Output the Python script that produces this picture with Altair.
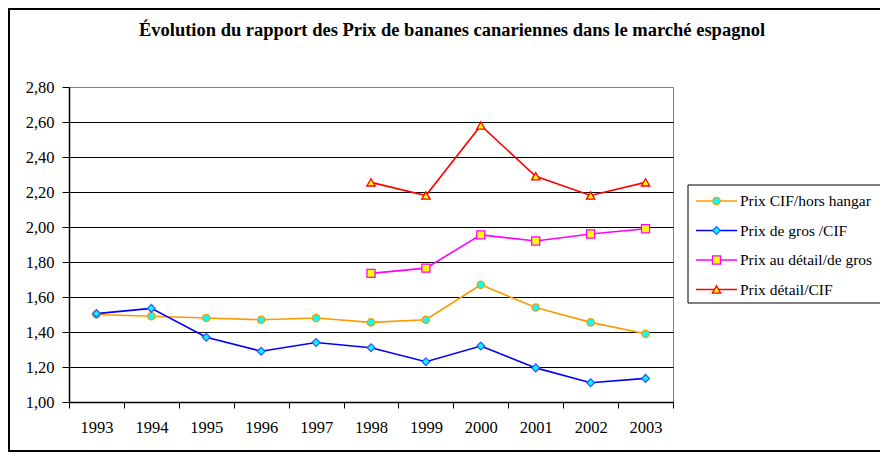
import altair as alt
import pandas as pd

years = [1993, 1994, 1995, 1996, 1997, 1998, 1999, 2000, 2001, 2002, 2003]
series_names = ["Prix CIF/hors hangar", "Prix de gros /CIF",
                "Prix au détail/de gros", "Prix détail/CIF"]
cif_hangar = [1.50, 1.49, 1.48, 1.47, 1.48, 1.455, 1.47, 1.67, 1.54, 1.455, 1.39]
gros_cif = [1.505, 1.535, 1.37, 1.29, 1.34, 1.31, 1.23, 1.32, 1.195, 1.11, 1.135]
years_late = [1998, 1999, 2000, 2001, 2002, 2003]
detail_gros = [1.735, 1.765, 1.955, 1.92, 1.96, 1.99]
detail_cif = [2.255, 2.18, 2.58, 2.29, 2.18, 2.255]

y_ticks = [1.0, 1.2, 1.4, 1.6, 1.8, 2.0, 2.2, 2.4, 2.6, 2.8]
x_ticks = [1992.5, 1993.5, 1994.5, 1995.5, 1996.5, 1997.5, 1998.5,
           1999.5, 2000.5, 2001.5, 2002.5, 2003.5]

line_colors = ["#FF9900", "#0000FF", "#FF00FF", "#FF0000"]
stroke_colors = ["#FF9900", "#3355FF", "#FF00FF", "#FF0000"]
fill_colors = ["#00FFFF", "#00FFFF", "#FFFF00", "#FFFF00"]
shapes = ["circle", "diamond", "square", "triangle-up"]
sizes = [55, 70, 50, 65]

rows = []
for s, xs, vs in [(series_names[0], years, cif_hangar),
                  (series_names[1], years, gros_cif),
                  (series_names[2], years_late, detail_gros),
                  (series_names[3], years_late, detail_cif)]:
    for x, v in zip(xs, vs):
        rows.append({"serie": s, "annee": x, "valeur": v,
                     "rang": series_names.index(s)})
df = pd.DataFrame(rows)
leg_df = pd.DataFrame({"serie": series_names})

FONT = "'Liberation Serif', 'Times New Roman', 'DejaVu Serif', serif"

color_sc = alt.Scale(domain=series_names, range=line_colors)
stroke_sc = alt.Scale(domain=series_names, range=stroke_colors)
fill_sc = alt.Scale(domain=series_names, range=fill_colors)
shape_sc = alt.Scale(domain=series_names, range=shapes)
size_sc = alt.Scale(domain=series_names, range=sizes)

x_enc = alt.X("annee:Q", scale=alt.Scale(domain=[1992.5, 2003.5], nice=False, zero=False),
              axis=alt.Axis(values=x_ticks, title=None, grid=False,
                            labelExpr="datum.value < 2003 ? toString(datum.value + 0.5) : ''",
                            labelOffset=27.5, labelFlush=False, labelOverlap=False,
                            labelBound=False, tickSize=6, tickColor="#000000",
                            domainColor="#000000", domainWidth=1.5, labelPadding=11,
                            labelFont=FONT, labelFontSize=16.5, labelColor="#000000"))
y_enc = alt.Y("valeur:Q", scale=alt.Scale(domain=[1.0, 2.8], nice=False, zero=False),
              axis=alt.Axis(values=y_ticks, title=None, grid=True,
                            gridColor=alt.condition("datum.value > 2.79", alt.value("#808080"), alt.value("#000000")),
                            gridWidth=1,
                            labelExpr="replace(format(datum.value, '.2f'), '.', ',')",
                            tickSize=7, tickColor="#000000", domainColor="#000000",
                            domainWidth=1.5, labelPadding=8,
                            labelFont=FONT, labelFontSize=16.5, labelColor="#000000"))

base = alt.Chart(df)
lines = base.mark_line(strokeWidth=1.6).encode(
    x=x_enc, y=y_enc,
    color=alt.Color("serie:N", scale=color_sc, legend=None),
    detail="serie:N",
    order="annee:Q",
)
points = base.mark_point(filled=True, strokeWidth=1.3, opacity=1).encode(
    x=x_enc, y=y_enc,
    shape=alt.Shape("serie:N", scale=shape_sc, legend=None),
    fill=alt.Fill("serie:N", scale=fill_sc, legend=None),
    stroke=alt.Stroke("serie:N", scale=stroke_sc, legend=None),
    size=alt.Size("serie:N", scale=size_sc, legend=None),
    order="rang:Q",
)
main = alt.layer(lines, points)

leg_y = alt.Y("serie:N", scale=alt.Scale(type="point", domain=series_names,
                                          range=[114, 202.5], padding=0), axis=None)
leg_base = alt.Chart(leg_df)
leg_box = alt.Chart(alt.Data(values=[{"k": 1}])).mark_rect(
    fill="white", stroke="#000000", strokeWidth=1).encode(
    x=alt.value(619), x2=alt.value(900), y=alt.value(98), y2=alt.value(216))
leg_rule = leg_base.mark_rule(strokeWidth=1.6).encode(
    x=alt.value(627), x2=alt.value(668), y=leg_y,
    color=alt.Color("serie:N", scale=color_sc, legend=None))
leg_pt = leg_base.mark_point(filled=True, strokeWidth=1.3, opacity=1).encode(
    x=alt.value(647.5), y=leg_y,
    shape=alt.Shape("serie:N", scale=shape_sc, legend=None),
    fill=alt.Fill("serie:N", scale=fill_sc, legend=None),
    stroke=alt.Stroke("serie:N", scale=stroke_sc, legend=None),
    size=alt.Size("serie:N", scale=size_sc, legend=None))
leg_txt = leg_base.mark_text(align="left", baseline="middle", font=FONT,
                             fontSize=15.5, color="#000000").encode(
    x=alt.value(671), y=leg_y, text="serie:N")
legend = alt.layer(leg_box, leg_rule, leg_pt, leg_txt)

frame = alt.Chart(alt.Data(values=[{"k": 1}])).mark_rect(
    fill=None, stroke="#000000", strokeWidth=2).encode(
    x=alt.value(-60), x2=alt.value(900), y=alt.value(-78), y2=alt.value(364))

chart = alt.layer(frame, main, legend).resolve_scale(y="independent").properties(
    width=604, height=315,
    title=alt.TitleParams(
        "Évolution du rapport des Prix de bananes canariennes  dans le marché espagnol",
        font=FONT, fontSize=18.5, fontWeight="bold", color="#000000",
        anchor="middle", dx=81, offset=-31),
    autosize=alt.AutoSizeParams(type="none"),
    padding={"left": 61, "top": 79, "right": 207, "bottom": 51},
    background="white",
).configure_view(stroke="#808080", strokeWidth=1)

chart.save("out.html", embed_options={"renderer": "svg", "actions": False})
